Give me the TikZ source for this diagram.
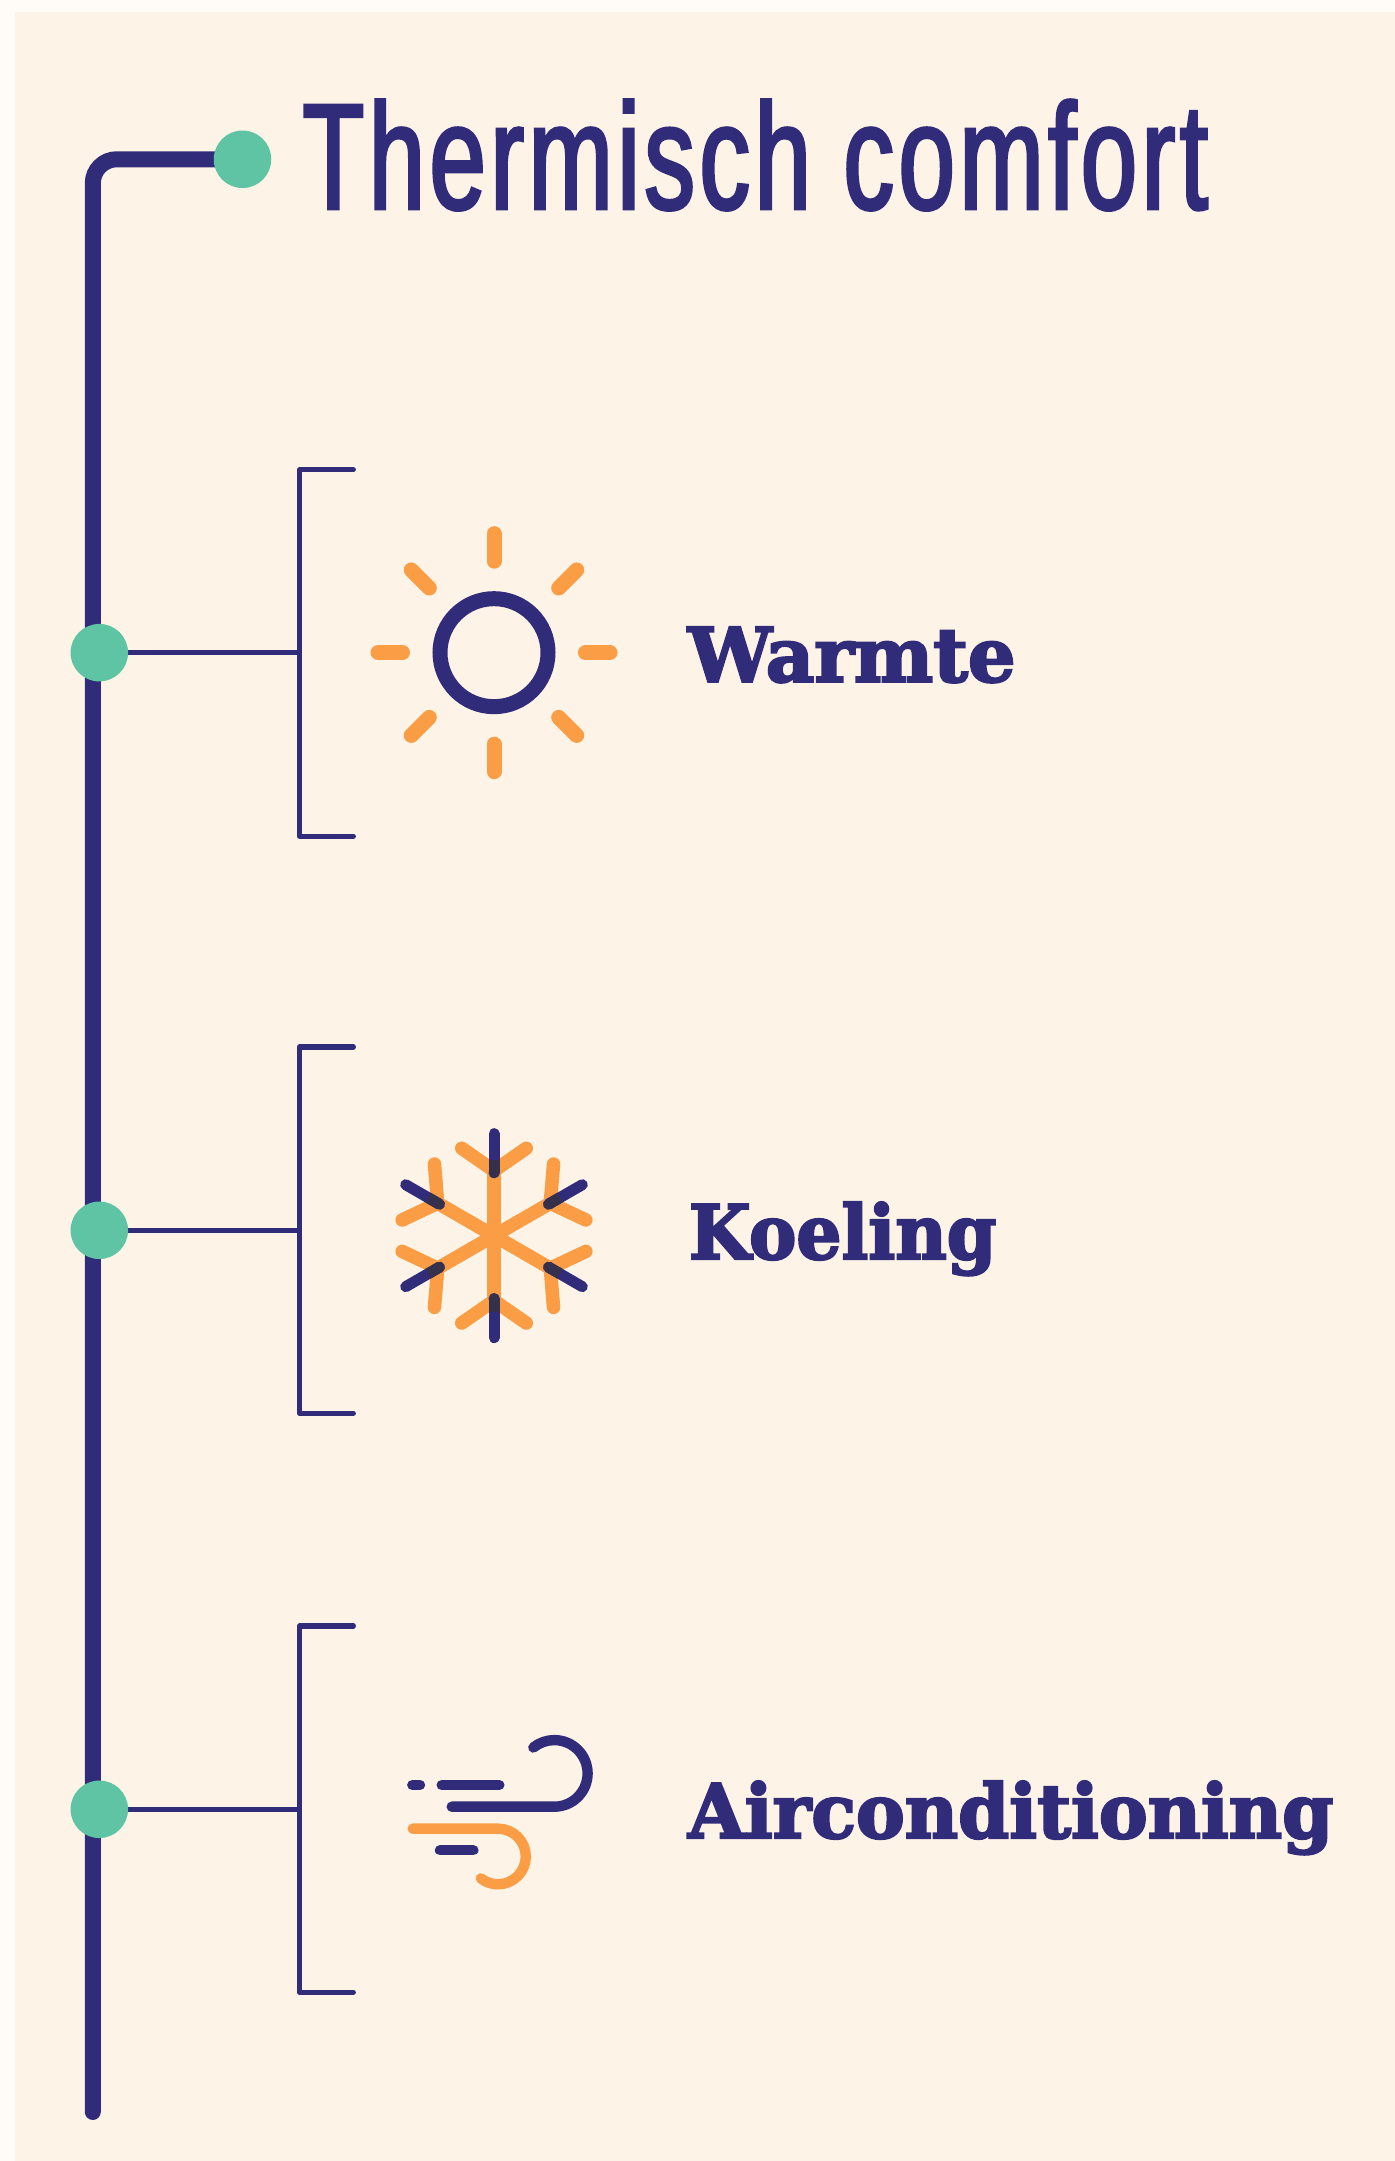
\documentclass[tikz,border=0pt]{standalone}
\usepackage{fontspec}
\usetikzlibrary{backgrounds}
\setmainfont{Liberation Sans}
\newfontfamily\titlefont[FakeStretch=0.67,FakeBold=2,LetterSpace=3]{Liberation Sans}
\newfontfamily\labelfontA[FakeStretch=1.0,FakeBold=3]{DejaVu Serif Bold}
\newfontfamily\labelfontB[FakeStretch=0.945,FakeBold=3]{DejaVu Serif Bold}
\newfontfamily\labelfontC[FakeStretch=0.977,FakeBold=3]{DejaVu Serif Bold}
\definecolor{navy}{HTML}{312C7A}
\definecolor{orng}{HTML}{FA9D44}
\definecolor{grn}{HTML}{5EC4A4}
\definecolor{panel}{HTML}{FDF3E7}
\definecolor{margin}{HTML}{FFFBF6}
\definecolor{overlap}{HTML}{35304B}
\tikzset{
  dot/.style={circle,fill=grn,minimum size=57.5pt,inner sep=0pt,outer sep=0pt},
  mainline/.style={draw=navy,line width=16pt,line cap=round},
  branchline/.style={draw=navy,line width=5.3pt},
  bracketline/.style={draw=navy,line width=5.3pt,line cap=round,line join=round},
  sunring/.style={draw=navy,line width=15pt},
  sunray/.style={draw=orng,line width=15pt,line cap=round},
  flakeo/.style={draw=orng,line width=13.5pt,line cap=round,line join=round},
  flaken/.style={draw=navy,line width=11pt,line cap=round},
  flaked/.style={draw=overlap,line width=11pt,line cap=butt},
  windn/.style={draw=navy,line width=10.4pt,line cap=round},
  windo/.style={draw=orng,line width=10.4pt,line cap=round},
  titletext/.style={anchor=base west,inner sep=0pt,outer sep=0pt,text=navy,font=\titlefont\fontsize{151}{151}\selectfont},
  labeltext/.style={anchor=base west,inner sep=0pt,outer sep=0pt,text=navy},
}
\begin{document}
\begin{tikzpicture}[x=1pt,y=1pt]
\useasboundingbox (0,0) rectangle (1395,2161);
% dots
\node[dot] (top) at (242.5,2001.7) {};
\node[dot] (d1) at (99.3,1508.3) {};
\node[dot] (d2) at (99.3,930.7) {};
\node[dot] (d3) at (99.3,351.7) {};
\coordinate (mainend) at (92.8,49);
% brackets
\coordinate (b1m) at (299.8,1508.3);
\coordinate (b1t) at (299.8,1691.2);
\coordinate (b1b) at (299.8,1324.8);
\coordinate (b1te) at (353.3,1691.2);
\coordinate (b1be) at (353.3,1324.8);
\coordinate (b2m) at (299.8,930.7);
\coordinate (b2t) at (299.8,1114);
\coordinate (b2b) at (299.8,747.7);
\coordinate (b2te) at (353.3,1114);
\coordinate (b2be) at (353.3,747.7);
\coordinate (b3m) at (299.8,351.7);
\coordinate (b3t) at (299.8,535);
\coordinate (b3b) at (299.8,168.7);
\coordinate (b3te) at (353.3,535);
\coordinate (b3be) at (353.3,168.7);
\begin{scope}[on background layer]
  \fill[margin] (0,0) rectangle (1395,2161);
  \fill[panel] (15,0) rectangle (1395,2149);
  \draw[mainline,rounded corners=24pt] (top.center) -| (mainend);
  \draw[branchline] (d1.center) -- (b1m);
  \draw[branchline] (d2.center) -- (b2m);
  \draw[branchline] (d3.center) -- (b3m);
  \draw[bracketline] (b1te) -- (b1t) -- (b1b) -- (b1be);
  \draw[bracketline] (b2te) -- (b2t) -- (b2b) -- (b2be);
  \draw[bracketline] (b3te) -- (b3t) -- (b3b) -- (b3be);
\end{scope}
% texts
\node[titletext] (title) at (302.5,1952) {Thermisch comfort};
\node[labeltext,font=\labelfontA\fontsize{75}{75}\selectfont] (warmte) at (688,1479.3) {Warmte};
\node[labeltext,font=\labelfontB\fontsize{75}{75}\selectfont] (koeling) at (689,902) {Koeling};
\node[labeltext,font=\labelfontC\fontsize{75}{75}\selectfont] (aircon) at (688,323) {Airconditioning};
% sun
\begin{scope}[shift={(494,1508.3)}]
  \foreach \a/\r in {0/116,45/117,90/119,135/117,180/116,225/117,270/119,315/117}
    \draw[sunray] (\a:91.5) -- (\a:\r);
  \draw[sunring] (0,0) circle (54);
\end{scope}
% snowflake
\begin{scope}[shift={(494,925.3)}]
  \foreach \a in {0,60,...,300} {
    \begin{scope}[rotate=\a]
      \draw[flakeo] (0,0) -- (0,65);
      \draw[flakeo] (-32.3,87.4) -- (0,65) -- (32.3,87.4);
    \end{scope}
  }
  \foreach \a in {0,60,...,300} {
    \begin{scope}[rotate=\a]
      \draw[flaken] (0,63) -- (0,102);
      \draw[flaked] (0,63) -- (0,76);
      \fill[overlap] (0,63) circle (5.5);
    \end{scope}
  }
\end{scope}
% wind
\draw[windn] (412.3,376) -- (420,376);
\draw[windn] (441.7,376) -- (499.3,376);
\draw[windn] (451.7,354.3) -- (554.3,354.3) arc (-90:129:33.3);
\draw[windo] (412.7,332.3) -- (498,332.3) arc (90:-128:27.8);
\draw[windn] (440,310.7) -- (473.3,310.7);
\end{tikzpicture}
\end{document}
